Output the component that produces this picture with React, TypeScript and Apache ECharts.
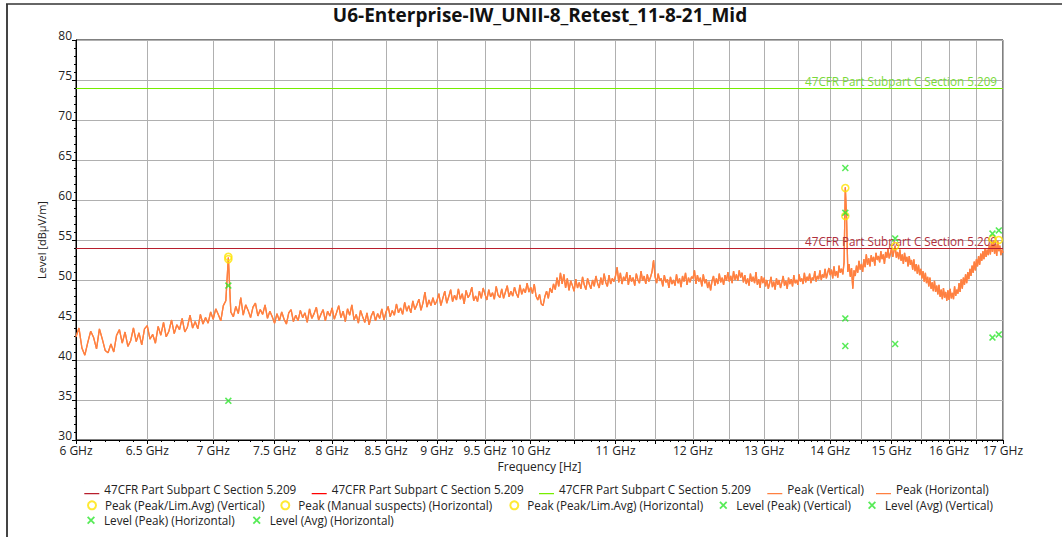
import React, { useEffect, useRef } from "react";
import * as echarts from "echarts";

const FONT = "'Open Sans', 'Noto Sans', sans-serif";
const TITLE = "U6-Enterprise-IW_UNII-8_Retest_11-8-21_Mid";
const LIMIT_TEXT = "47CFR Part Subpart C Section 5.209";

// limit levels (dBµV/m)
const limitAvgLevel = [54];
const limitAvgLevel2 = [54];
const limitPeakLevel = [74];

// frequency axis (GHz)
const xMinGHz = 6;
const xMaxGHz = 17;
const xLabelGHz = [6, 6.5, 7, 7.5, 8, 8.5, 9, 9.5, 10, 11, 12, 13, 14, 15, 16, 17];
const xGridGHz = [6, 6.5, 7, 7.5, 8, 8.5, 9, 9.5, 10, 10.5, 11, 11.5, 12, 12.5, 13, 13.5, 14, 14.5, 15, 15.5, 16, 16.5, 17];

// trace: start frequency and step (GHz), values in dBµV/m
const traceStartGHz = 6;
const traceStepGHz = 0.02;
const trace6 = [42.9, 44.0, 41.5, 40.6, 42.2, 43.6, 42.8, 41.4, 43.9, 42.6, 41.2, 40.9, 42.0, 41.0, 43.1, 43.8, 42.1, 43.5, 41.7, 42.4, 44.0, 42.3, 43.4, 41.9, 43.9, 44.3, 42.6, 43.2, 42.1, 44.2, 43.1, 44.7, 42.9, 43.6, 45.0, 43.3, 44.4, 43.8, 45.2, 43.5, 44.1, 45.6, 44.0, 44.8, 43.9, 45.7, 44.5, 45.3, 44.6, 46.0];
const trace7 = [45.1, 46.4, 45.7, 44.9, 46.8, 47.4, 52.8, 46.0, 45.4, 46.7, 45.8, 47.8, 45.6, 46.9, 46.2, 45.3, 46.6, 47.1, 45.5, 46.3, 45.7, 46.9, 45.2, 46.1, 45.4, 44.6, 45.8, 44.9, 46.0, 45.1, 44.5, 45.9, 46.3, 44.8, 45.6, 44.9, 46.2, 45.3, 45.9, 44.7, 46.4, 45.2, 45.8, 46.6, 45.0, 45.7, 46.3, 44.9, 46.1, 45.5];
const trace8 = [46.5, 45.1, 45.9, 46.8, 45.3, 46.1, 44.8, 46.4, 45.6, 46.9, 45.0, 45.7, 44.6, 46.2, 45.4, 44.7, 45.9, 44.4, 45.5, 46.1, 44.9, 45.8, 45.2, 46.4, 45.0, 46.0, 46.7, 45.4, 46.2, 45.6, 47.0, 45.9, 46.5, 45.7, 47.2, 46.1, 46.8, 45.9, 47.4, 46.3, 46.9, 47.6, 46.2, 47.1, 48.5, 46.6, 47.5, 46.8, 47.8, 46.9];
const trace9 = [47.4, 48.3, 46.8, 47.7, 48.6, 47.1, 47.9, 48.8, 47.3, 48.1, 47.5, 48.9, 47.6, 48.3, 47.0, 48.7, 47.8, 48.2, 49.1, 47.4, 48.0, 47.3, 48.6, 47.7, 49.0, 48.2, 47.5, 48.8, 47.9, 48.4, 47.6, 49.2, 48.1, 47.8, 48.9, 47.7, 48.5, 49.3, 47.9, 48.6, 48.0, 49.1, 48.3, 47.8, 49.4, 48.2, 48.9, 48.4, 49.6, 48.5];
const trace10 = [49.1, 48.3, 49.5, 48.0, 47.5, 48.2, 47.0, 46.8, 47.9, 48.6, 47.7, 49.0, 48.4, 49.5, 48.8, 50.3, 49.2, 50.9, 49.5, 50.7, 49.0, 50.2, 48.7, 49.9, 49.3, 48.6, 50.1, 49.0, 49.7, 48.9, 50.4, 49.4, 48.8, 50.2, 49.5, 48.9, 50.0, 49.2, 50.5, 49.6, 49.0, 50.3, 49.4, 50.8, 49.7, 49.2, 50.6, 49.5, 50.2, 49.8];
const trace11 = [50.5, 51.6, 49.7, 50.9, 49.5, 50.4, 49.9, 51.0, 49.4, 50.6, 49.8, 50.3, 49.3, 50.8, 50.0, 49.6, 51.1, 49.9, 50.5, 49.5, 50.7, 49.8, 50.3, 51.0, 52.5, 50.4, 49.6, 50.8, 49.9, 50.2, 49.2, 50.6, 49.7, 50.1, 49.0, 50.4, 49.5, 50.0, 49.3, 50.7, 49.6, 50.2, 49.1, 50.5, 49.8, 50.9, 49.4, 50.3, 49.7, 50.4];
const trace12 = [50.2, 51.2, 49.5, 50.6, 49.8, 50.3, 49.2, 50.7, 49.6, 50.1, 49.0, 49.8, 48.7, 49.9, 50.5, 49.3, 50.2, 49.5, 50.8, 49.7, 50.3, 49.4, 50.6, 49.9, 51.0, 49.8, 50.5, 49.6, 51.1, 50.0, 50.7, 49.9, 51.2, 50.3, 50.9, 49.7, 50.6, 49.5, 50.2, 49.3, 50.8, 49.8, 50.4, 49.6, 51.0, 49.4, 50.1, 49.0, 50.5, 49.6];
const trace13 = [50.3, 49.2, 50.0, 48.9, 49.6, 50.4, 49.1, 49.8, 48.8, 50.2, 49.4, 50.0, 49.0, 49.7, 50.5, 49.3, 49.9, 48.9, 50.3, 49.5, 50.1, 49.2, 50.6, 49.6, 50.0, 49.4, 50.7, 49.8, 50.2, 49.5, 50.9, 49.7, 50.4, 49.9, 50.8, 49.6, 50.3, 50.0, 51.1, 49.8, 50.5, 50.1, 51.2, 50.0, 50.7, 50.3, 51.4, 50.2, 50.9, 51.5];
const trace14 = [50.6, 51.3, 50.2, 51.7, 50.5, 51.1, 50.3, 51.8, 50.9, 51.4, 50.7, 52.2, 61.6, 57.8, 51.0, 52.0, 50.4, 51.5, 48.9, 51.2, 50.5, 51.8, 50.9, 52.4, 51.3, 52.0, 51.0, 52.6, 51.6, 53.2, 51.9, 52.7, 51.7, 53.1, 52.3, 52.9, 51.8, 53.4, 52.5, 53.0, 52.2, 53.6, 52.6, 53.2, 52.0, 53.5, 52.8, 53.9, 52.7, 53.3];
const trace15 = [54.0, 52.9, 53.6, 54.3, 52.8, 53.5, 52.6, 53.8, 52.4, 53.2, 52.0, 53.4, 52.3, 52.9, 51.7, 53.0, 51.9, 52.5, 51.3, 52.6, 51.1, 52.0, 50.8, 51.9, 50.6, 51.4, 50.2, 51.1, 49.8, 50.9, 49.6, 50.4, 49.2, 50.3, 48.9, 49.7, 48.6, 49.9, 48.5, 49.3, 48.2, 49.4, 47.9, 48.8, 47.6, 49.0, 47.8, 48.5, 47.4, 48.7];
const trace16 = [47.5, 48.9, 47.7, 48.4, 47.6, 49.2, 48.0, 48.8, 48.3, 49.6, 48.5, 50.1, 48.9, 50.3, 49.4, 50.7, 49.6, 51.0, 50.1, 51.4, 50.5, 51.8, 50.9, 52.3, 51.2, 52.6, 51.7, 53.0, 51.9, 53.3, 52.4, 53.6, 52.6, 54.0, 52.9, 53.8, 53.1, 54.4, 53.2, 54.7, 53.5, 55.0, 53.3, 54.5, 53.0, 54.9, 53.6, 54.3, 53.1, 53.8];
const trace17 = [53.4];

// markers [GHz, dBµV/m]
const peakLimAvgVertical = [[14.24, 61.5], [14.24, 58.0], [15.06, 54.25]];
const peakManualHorizontal = [[7.12, 52.9]];
const peakLimAvgHorizontal = [[7.12, 52.6], [16.8, 55.1], [16.92, 55.0]];
const levelPeakVertical = [[14.24, 64.0], [15.06, 55.2]];
const levelAvgVertical = [[14.24, 45.2], [15.06, 42.0]];
const levelPeakHorizontal = [[7.12, 49.3], [14.24, 58.4], [16.8, 55.8], [16.92, 56.2]];
const levelAvgHorizontal = [[7.12, 34.9], [14.24, 41.75], [16.8, 42.8], [16.92, 43.2]];

const lg = (f: number) => Math.log10(f);

const X_SYMBOL = "path://M0,1.6L1.6,0L5,3.4L8.4,0L10,1.6L6.6,5L10,8.4L8.4,10L5,6.6L1.6,10L0,8.4L3.4,5Z";
const LINE_ICON = "path://M0,0L0.1,0L0.1,0.1Z M0,10L15,10L15,11.2L0,11.2Z";

const displayNames: Record<string, string> = {
  lim1: LIMIT_TEXT,
  lim2: LIMIT_TEXT,
  lim3: LIMIT_TEXT,
};

export default function App() {
  const ref = useRef<HTMLDivElement>(null);
  useEffect(() => {
    document.body.style.margin = "0";
    if (!ref.current) return;
    const chart = echarts.init(ref.current, undefined, { renderer: "svg" });

    const traceVals = [
      ...trace6, ...trace7, ...trace8, ...trace9, ...trace10, ...trace11,
      ...trace12, ...trace13, ...trace14, ...trace15, ...trace16, ...trace17,
    ];
    const traceData = traceVals.map((v, i) => [lg(traceStartGHz + i * traceStepGHz), v]);
    const conv = (arr: number[][]) => arr.map(([f, v]) => [lg(f), v]);

    const minorTicks: number[] = [];
    for (let k = 61; k < 170; k++) {
      const f = k / 10;
      if (!xGridGHz.some((g) => Math.abs(g - f) < 1e-6)) minorTicks.push(lg(f));
    }

    const textStyle = { fontFamily: FONT, fontSize: 11.7, color: "#222" };
    const lineLegend = (name: string, left: number, top: number) => ({
      data: [{ name, icon: LINE_ICON }],
      left, top, padding: 0, itemGap: 0, itemWidth: 15, itemHeight: 11.2,
      formatter: (n: string) => displayNames[n] ?? n,
      textStyle, selectedMode: false,
    });
    const symLegend = (name: string, left: number, top: number) => ({
      data: [name],
      left, top, padding: 0, itemGap: 0, itemWidth: 8, itemHeight: 8,
      textStyle: { ...textStyle, padding: [0, 0, 0, 4] }, selectedMode: false,
    });

    const limitSeries = (name: string, level: number, color: string, labelColor: string | null, z: number) => ({
      name, type: "line", data: [], z,
      itemStyle: { color },
      lineStyle: { color, width: 1 },
      markLine: {
        silent: true, symbol: "none", animation: false,
        lineStyle: { color, width: 1, type: "solid" },
        data: [{ yAxis: level }],
        label: labelColor
          ? { show: true, position: "insideEndTop", formatter: LIMIT_TEXT, color: labelColor, fontFamily: FONT, fontSize: 11.7, distance: [6, 1] }
          : { show: false },
      },
    });

    const scatter = (name: string, data: number[][], symbol: string, color: string, size: number) => ({
      name, type: "scatter", data: conv(data), symbol, symbolSize: size, z: 5,
      itemStyle: symbol === "circle"
        ? { color: "rgba(255,255,255,0)", borderColor: color, borderWidth: 1.6 }
        : { color },
    });

    chart.setOption({
      animation: false,
      graphic: [
        { type: "line", shape: { x1: 7, y1: 4, x2: 7, y2: 537 }, style: { stroke: "#444", lineWidth: 2 } },
        { type: "line", shape: { x1: 6, y1: 4, x2: 1062, y2: 4 }, style: { stroke: "#333", lineWidth: 1.5 } },
        {
          type: "text", x: 540, y: 15,
          style: {
            text: TITLE, textAlign: "center", textVerticalAlign: "middle",
            font: `bold 19px ${FONT}`, fill: "#111",
          },
        },
      ],
      grid: { left: 76, top: 40, width: 927, height: 400, show: true, borderColor: "#000", borderWidth: 1 },
      xAxis: [
        {
          type: "value", min: lg(xMinGHz), max: lg(xMaxGHz), position: "bottom",
          name: "Frequency [Hz]", nameLocation: "middle", nameGap: 20,
          nameTextStyle: { fontFamily: FONT, fontSize: 12, color: "#222" },
          axisLine: { show: true, lineStyle: { color: "#000", width: 1 } },
          axisTick: { show: true, length: 4, customValues: xGridGHz.map(lg), lineStyle: { color: "#000" } },
          axisLabel: {
            customValues: xLabelGHz.map(lg), margin: 4, fontFamily: FONT, fontSize: 12, color: "#222",
            formatter: (v: number) => `${+Math.pow(10, v).toFixed(1)} GHz`,
          },
          splitLine: { show: true, lineStyle: { color: "#b0b0b0", width: 1 } },
        },
        {
          type: "value", min: lg(xMinGHz), max: lg(xMaxGHz), position: "bottom",
          axisLine: { show: false },
          axisTick: { show: true, length: 2, customValues: minorTicks, lineStyle: { color: "#000" } },
          axisLabel: { show: false },
          splitLine: { show: false },
        },
      ],
      yAxis: {
        type: "value", min: 30, max: 80, interval: 5,
        name: "Level [dBµV/m]", nameLocation: "middle", nameGap: 27, nameRotate: 90,
        nameTextStyle: { fontFamily: FONT, fontSize: 11, color: "#222" },
        axisLine: { show: true, lineStyle: { color: "#000", width: 1 } },
        axisTick: { show: true, length: 4, lineStyle: { color: "#000" } },
        minorTick: { show: true, splitNumber: 5, length: 2, lineStyle: { color: "#000" } },
        axisLabel: { margin: 4, fontFamily: FONT, fontSize: 12, color: "#222", verticalAlign: "bottom", lineHeight: 10 },
        splitLine: { show: true, lineStyle: { color: "#b0b0b0", width: 1 } },
      },
      legend: [
        lineLegend("lim1", 84.3, 482.7),
        lineLegend("lim2", 311.7, 482.7),
        lineLegend("lim3", 539, 482.7),
        lineLegend("Peak (Vertical)", 767.3, 482.7),
        lineLegend("Peak (Horizontal)", 876, 482.7),
        symLegend("Peak (Peak/Lim.Avg) (Vertical)", 87, 499.3),
        symLegend("Peak (Manual suspects) (Horizontal)", 280.3, 499.3),
        symLegend("Peak (Peak/Lim.Avg) (Horizontal)", 509.3, 499.3),
        symLegend("Level (Peak) (Vertical)", 719.3, 499.3),
        symLegend("Level (Avg) (Vertical)", 868, 499.3),
        symLegend("Level (Peak) (Horizontal)", 87, 514.3),
        symLegend("Level (Avg) (Horizontal)", 252.7, 514.3),
      ],
      series: [
        limitSeries("lim2", limitAvgLevel2[0], "#ff0000", null, 2),
        limitSeries("lim1", limitAvgLevel[0], "#b81e2d", "#b0303c", 3),
        limitSeries("lim3", limitPeakLevel[0], "#77ee00", "#7ad93a", 2),
        {
          name: "Peak (Vertical)", type: "line", data: traceData, showSymbol: false, symbol: "none", z: 4,
          itemStyle: { color: "#ff8040" }, lineStyle: { color: "#ff8040", width: 1.3 },
        },
        {
          name: "Peak (Horizontal)", type: "line", data: traceData, showSymbol: false, symbol: "none", z: 4,
          itemStyle: { color: "#ff8040" }, lineStyle: { color: "#ff8040", width: 1.3 },
        },
        scatter("Peak (Peak/Lim.Avg) (Vertical)", peakLimAvgVertical, "circle", "#ffe400", 7),
        scatter("Peak (Manual suspects) (Horizontal)", peakManualHorizontal, "circle", "#ffe400", 7),
        scatter("Peak (Peak/Lim.Avg) (Horizontal)", peakLimAvgHorizontal, "circle", "#ffe400", 7),
        scatter("Level (Peak) (Vertical)", levelPeakVertical, X_SYMBOL, "#2ee62e", 7),
        scatter("Level (Avg) (Vertical)", levelAvgVertical, X_SYMBOL, "#2ee62e", 7),
        scatter("Level (Peak) (Horizontal)", levelPeakHorizontal, X_SYMBOL, "#2ee62e", 7),
        scatter("Level (Avg) (Horizontal)", levelAvgHorizontal, X_SYMBOL, "#2ee62e", 7),
      ],
    });
    return () => chart.dispose();
  }, []);
  return <div ref={ref} style={{ width: 1062, height: 537 }} />;
}
